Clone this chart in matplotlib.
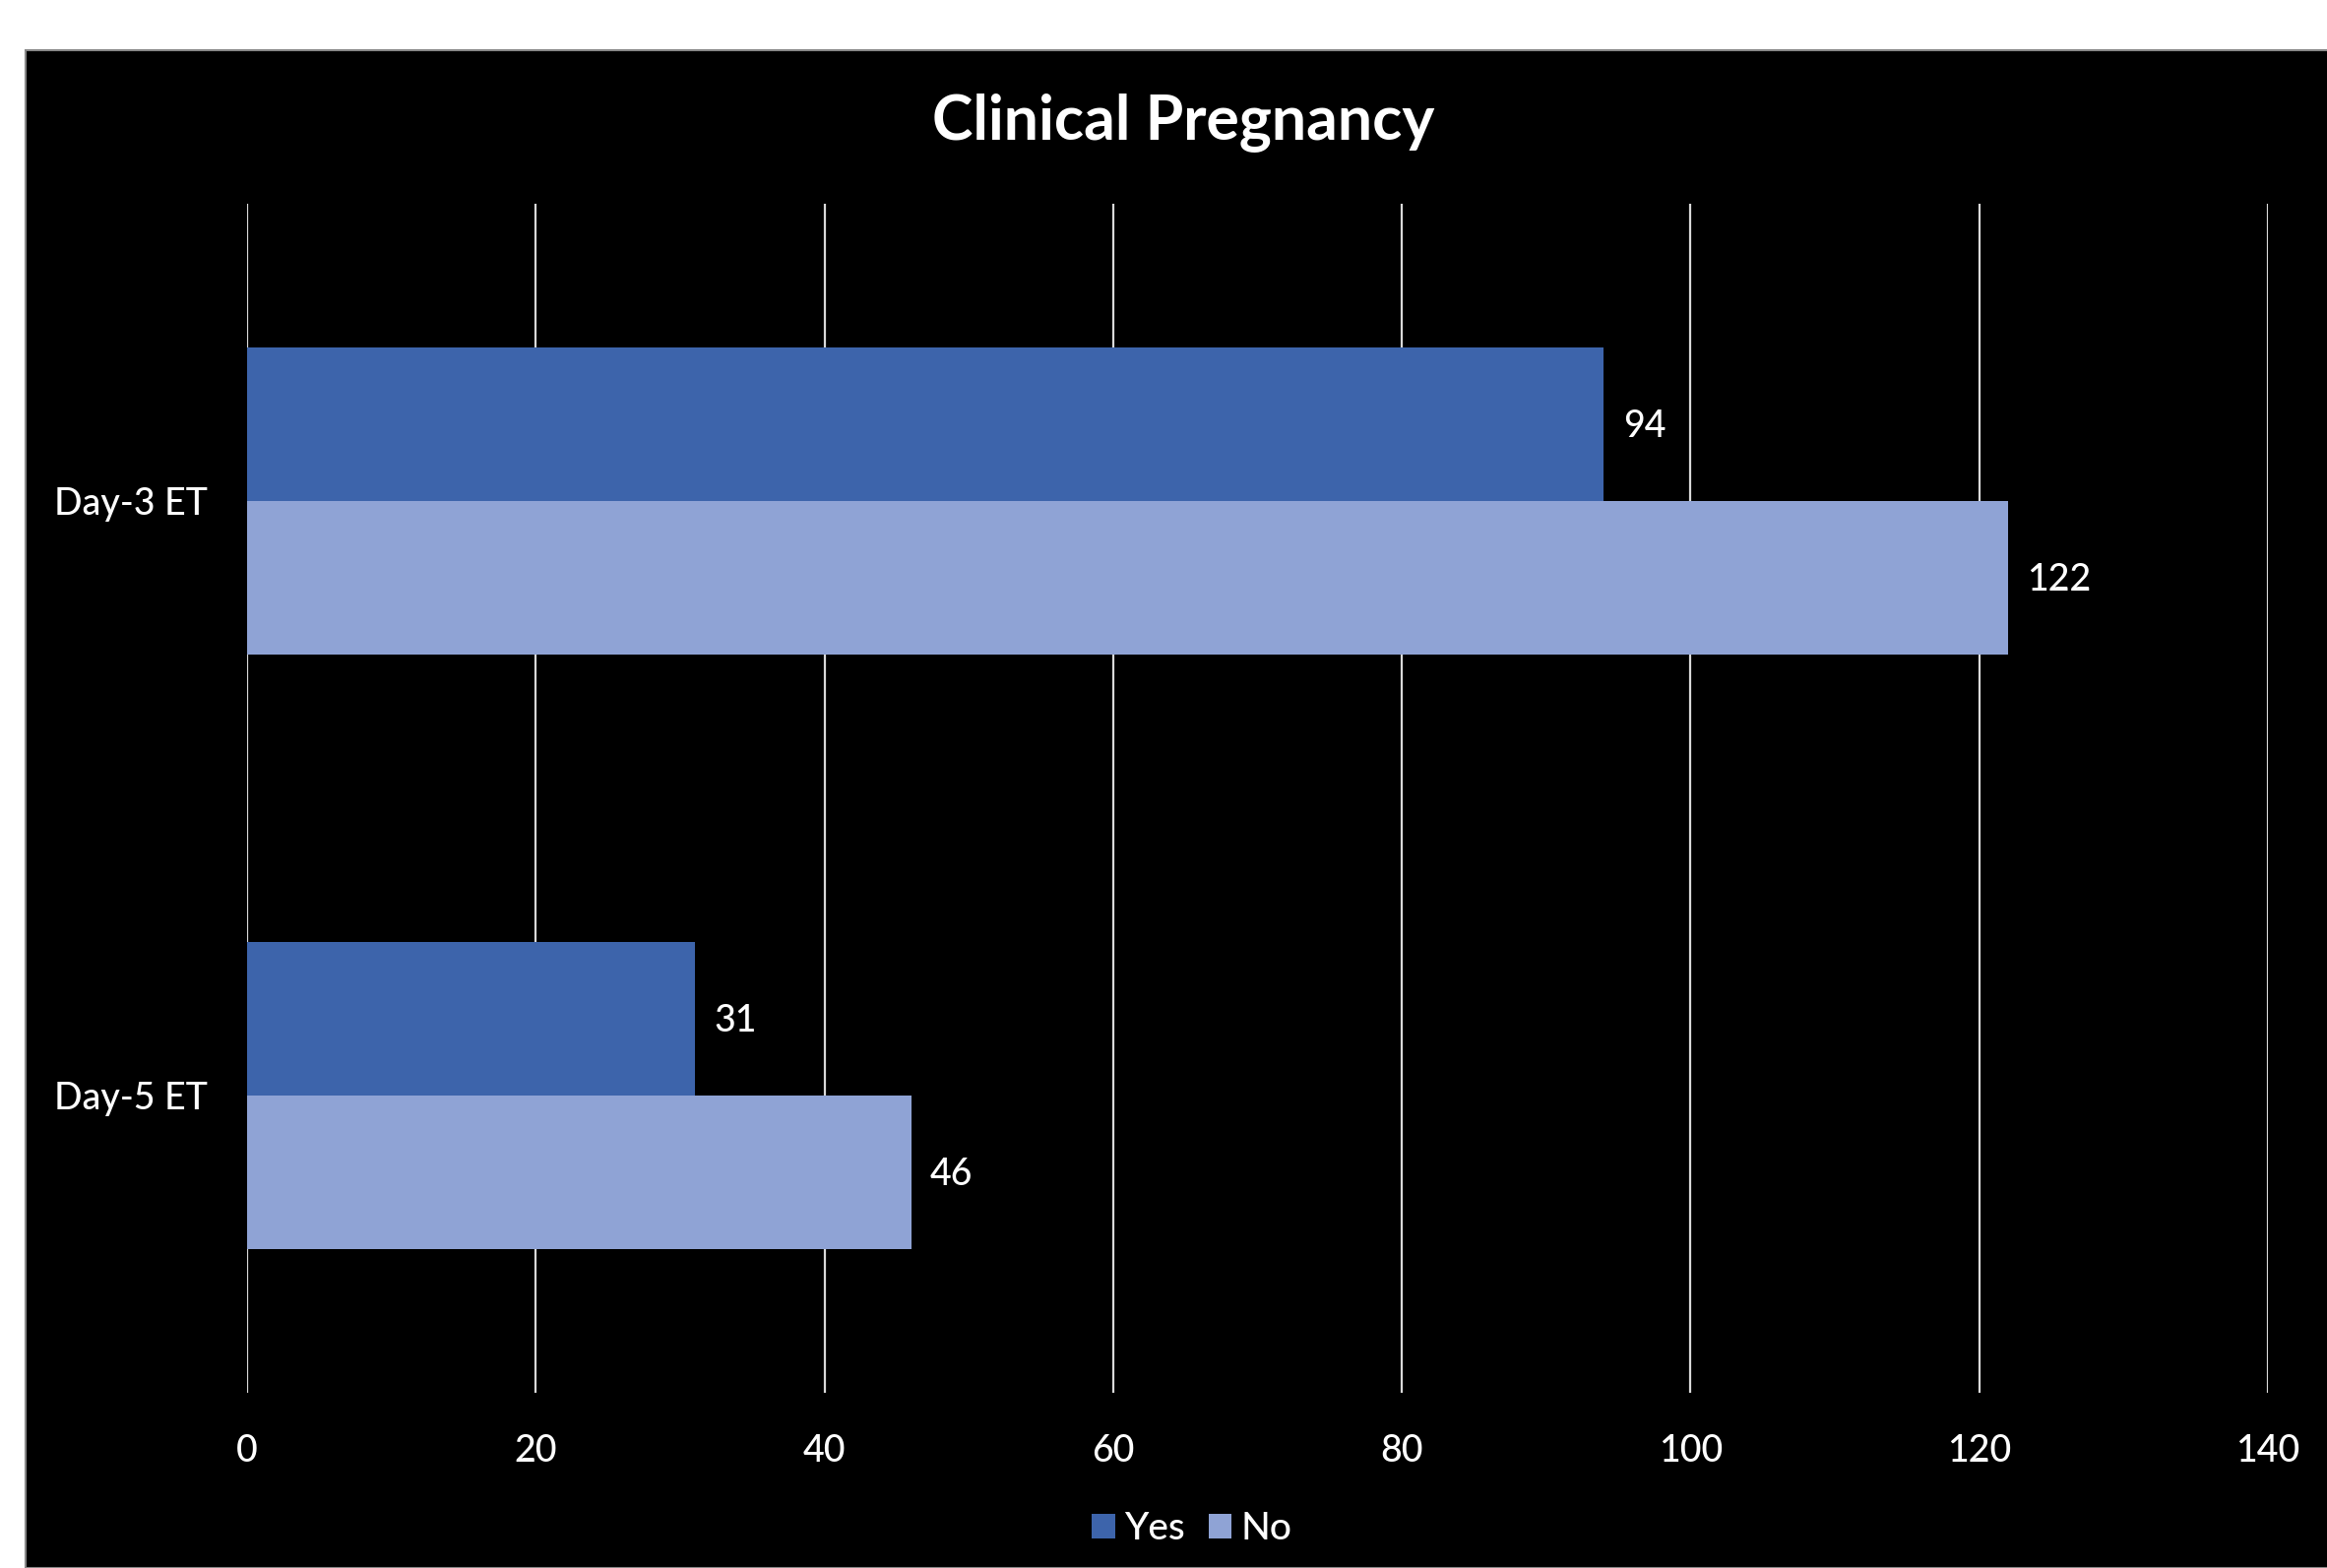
import matplotlib
matplotlib.use("Agg")
import matplotlib.pyplot as plt
from matplotlib.patches import Rectangle
import numpy as np

categories = ["Day-3 ET", "Day-5 ET"]
series_names = ["Yes", "No"]
yes_values = [94, 31]
no_values = [122, 46]
xticks = [0, 20, 40, 60, 80, 100, 120, 140]

plt.rcParams['font.family'] = ['Lato', 'DejaVu Sans']

W, H = 2364, 1593
fig = plt.figure(figsize=(W / 100, H / 100), dpi=100, facecolor='white')
bg = Rectangle((26 / W, 0), 1.0, 1 - 51 / H, transform=fig.transFigure,
               facecolor='black', edgecolor='#888888', linewidth=1.5, zorder=-10)
fig.patches.append(bg)

ax = fig.add_axes([251 / W, 1 - 1415 / H, (2304 - 251) / W, (1415 - 207) / H])
ax.set_zorder(1)
ax.set_facecolor('black')

y = np.arange(len(categories))
h = 0.259
c_yes = '#3D64AB'
c_no = '#8FA3D5'
b1 = ax.barh(y - h / 2, yes_values, height=h, color=c_yes, label=series_names[0], zorder=3)
b2 = ax.barh(y + h / 2, no_values, height=h, color=c_no, label=series_names[1], zorder=3)

for bars in (b1, b2):
    for rect in bars:
        v = rect.get_width()
        ax.annotate(f"{int(v)}", (v, rect.get_y() + rect.get_height() / 2),
                    xytext=(14, -2), textcoords='offset points', va='center', ha='left',
                    color='white', fontsize=27, fontweight='medium')

ax.set_xlim(0, 140)
ax.set_ylim(1.5, -0.5)
ax.set_xticks(xticks)
ax.set_xticklabels([str(t) for t in xticks], color='white', fontsize=27, fontweight='medium')
ax.set_yticks(y)
ax.set_yticklabels(categories, color='white', fontsize=27, fontweight='medium')
ax.tick_params(axis='x', length=0, pad=30)
ax.tick_params(axis='y', length=0, pad=29)
for s in ax.spines.values():
    s.set_visible(False)
ax.grid(axis='x', color='#D9D9D9', linewidth=1.6, zorder=1)
ax.set_axisbelow(True)

fig.text(1202 / W, 1 - 124 / H, "Clinical Pregnancy", ha='center', va='center',
         color='white', fontsize=45, fontweight='bold')

leg = fig.legend(handles=[b1, b2], labels=series_names, loc='center',
                 bbox_to_anchor=(1211 / W, 1 - 1554 / H), ncol=2, frameon=False,
                 fontsize=28, labelcolor='white', handlelength=0.6, handleheight=0.6,
                 handletextpad=0.25, columnspacing=0.6,
                 prop={'size': 28, 'weight': 'medium'})

fig.savefig("out.png", dpi=100, facecolor=fig.get_facecolor())
